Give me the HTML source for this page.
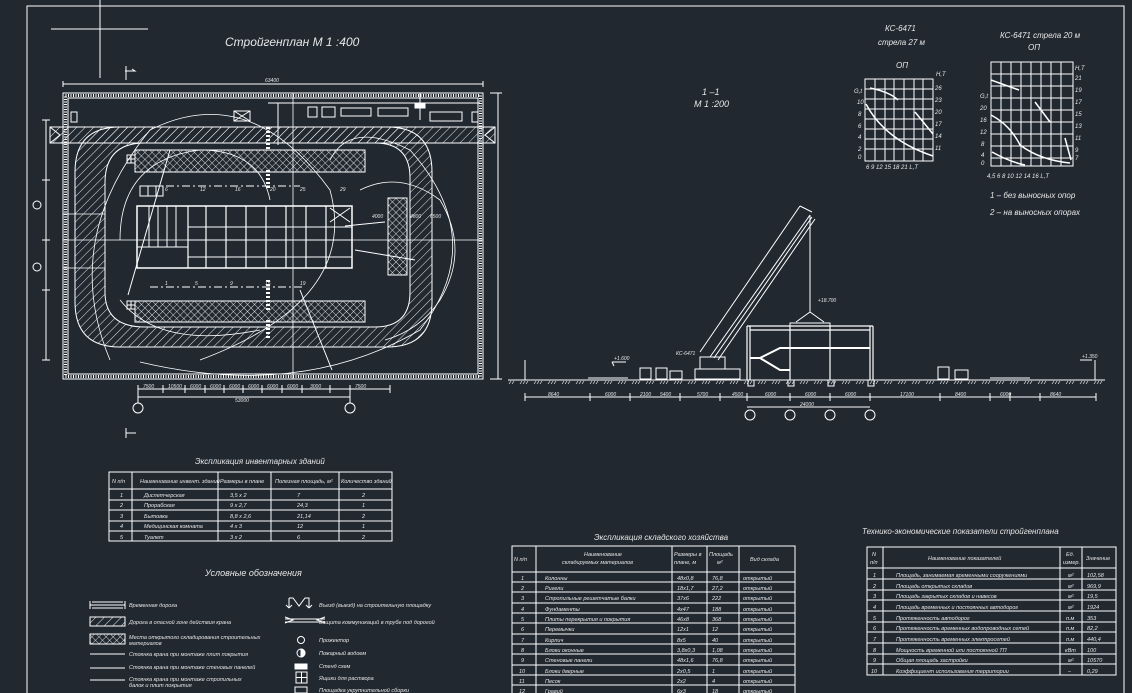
<!DOCTYPE html>
<html><head><meta charset="utf-8">
<style>
html,body{margin:0;padding:0;background:#212830;}
svg{display:block}
text{font-family:"Liberation Sans","DejaVu Sans",sans-serif;font-style:italic;fill:#e6e6e6;}
</style></head><body>
<svg width="1132" height="693" viewBox="0 0 1132 693" xmlns="http://www.w3.org/2000/svg">
<defs>
<pattern id="hat" width="6" height="6" patternUnits="userSpaceOnUse" patternTransform="rotate(45)">
<line x1="0" y1="0" x2="0" y2="6" stroke="#fff" stroke-width="0.9"/></pattern>
<pattern id="cross" width="5" height="5" patternUnits="userSpaceOnUse" patternTransform="rotate(45)">
<line x1="0" y1="0" x2="0" y2="5" stroke="#fff" stroke-width="0.8"/><line x1="0" y1="0" x2="5" y2="0" stroke="#fff" stroke-width="0.8"/></pattern>
<pattern id="grnd" width="14" height="4" patternUnits="userSpaceOnUse">
<path d="M2 4l2-3M5 4l2-3M8 4l2-3" stroke="#fff" stroke-width="0.6"/></pattern>
</defs>
<g stroke="#fff" fill="none" stroke-width="1">
<!-- frame -->
<path d="M27 693V6H1124V693"/>
<path d="M100 0V78M51 29H148"/>
</g>
<text x="225" y="46" font-size="12">Стройгенплан М 1 :400</text>

<!-- ===== PLAN ===== -->
<g stroke="#fff" fill="none" stroke-width="1">
<path d="M126 66v14M125 71h10l-3-2M125 71h8"/>
<path d="M63 84H483M63 81v6M483 81v6"/>
<rect x="63" y="93" width="420" height="286"/>
<rect x="68" y="98" width="410" height="276"/>
<rect x="65.5" y="95.5" width="415" height="281" stroke-dasharray="1 1.5" stroke-width="3"/>
<path d="M498 93V379M490 93h12M490 379h12"/>
<!-- road straight top -->
<rect x="50" y="127" width="445" height="16" fill="url(#hat)"/>
<path d="M50 127l10 8-10 8M495 127l-10 8 10 8"/>
<!-- loop -->
<path fill="url(#hat)" fill-rule="evenodd" d="M120 127H387Q432 127 432 172V302Q432 347 387 347H120Q75 347 75 302V172Q75 127 120 127ZM145 143H375Q410 143 410 178V292Q410 327 375 327H145Q105 327 105 292V183Q105 143 145 143Z"/>
<!-- storage -->
<rect x="135" y="150" width="230" height="22" fill="url(#cross)"/>
<rect x="135" y="301" width="230" height="21" fill="url(#cross)"/>
<rect x="388" y="198" width="19" height="77" fill="url(#cross)"/>
<!-- building -->
<rect x="137" y="206" width="215" height="62" stroke-width="1.5"/>
<path d="M188 206V268M206 206V268M226 206V268M246 206V268M266 206V268M286 206V268M306 206V268M326 206V268" stroke-width="1.2"/>
<path d="M188 227H352M188 240H352M188 257H352"/>
<path d="M137 247H188M149 206V247M158 206V247M167 206V247M176 206V247"/>
<path d="M330 208l20 14M350 208l-20 14"/>
<!-- crane paths -->
<path d="M150 186H300M150 287H305" stroke-dasharray="8 3 2 3"/>
<!-- center axis -->
<path d="M293 93V379M63 240H483M63 214H105M63 268H105" stroke-width="0.8"/>
<!-- zone arcs -->
<path d="M110 360Q60 240 150 130Q250 80 330 190Q360 300 200 360" stroke-width="0.8"/>
<path d="M140 362Q300 400 420 330Q490 240 410 150Q350 120 330 160" stroke-width="0.8"/>
<path d="M120 240Q120 160 200 150Q260 150 270 200M120 300Q160 350 260 330" stroke-width="0.8"/>
<path d="M360 190Q400 170 440 200Q470 250 440 300Q420 330 385 340" stroke-width="0.8"/>
<!-- top small buildings -->
<rect x="234" y="111" width="16" height="10"/><path d="M234 111l16 10M250 111l-16 10"/>
<rect x="308" y="107" width="9" height="10"/><rect x="322" y="107" width="13" height="10"/>
<rect x="341" y="108" width="30" height="8"/><rect x="378" y="108" width="30" height="8"/>
<rect x="430" y="112" width="32" height="9"/><rect x="472" y="112" width="6" height="10"/>
<rect x="71" y="112" width="6" height="10"/>
<path d="M278 103V145M268 103H480M420 93V120"/>
<rect x="415" y="103" width="10" height="5" fill="#fff"/>
<!-- ticks -->
<path d="M268 127V150M268 170v20M268 280v30M268 320v20" stroke-width="4" stroke-dasharray="2 2"/>
<rect x="127" y="155" width="8" height="8"/><path d="M131 155v8M127 159h8"/>
<rect x="127" y="301" width="8" height="8"/><path d="M131 301v8M127 305h8"/>
<rect x="140" y="186" width="23" height="10"/><path d="M148 186v10M156 186v10"/>
<!-- diagonals -->
<path d="M170 150l-42 145M300 290l32 80M355 250l60 10M345 226l40-4"/>
<!-- bottom dims -->
<path d="M138 389H390M138 385v8M163 385v8M185 385v8M205 385v8M224 385v8M243 385v8M262 385v8M282 385v8M302 385v8M330 385v8M350 385v8M390 385v8"/>
<path d="M138 397H350M138 393v10M350 393v10"/>
<circle cx="138" cy="408" r="5"/><circle cx="350" cy="408" r="5"/>
<path d="M126 428v10M126 433h10"/>
<!-- left dims -->
<path d="M46 120V360M42 120h8M42 180h8M42 240h8M42 290h8M42 360h8"/>
<circle cx="37" cy="205" r="4"/><circle cx="37" cy="267" r="4"/>
</g>
<g font-size="5">
<text x="265" y="82">63400</text><text x="143" y="388">7500</text><text x="168" y="388">10500</text><text x="190" y="388">6000</text><text x="210" y="388">6000</text><text x="229" y="388">6000</text><text x="248" y="388">6000</text><text x="267" y="388">6000</text><text x="287" y="388">6000</text><text x="310" y="388">3000</text><text x="355" y="388">7500</text><text x="235" y="402">53000</text>
<text x="430" y="218">6500</text><text x="410" y="218">4800</text><text x="372" y="218">4000</text>
<text x="165" y="191">6</text><text x="200" y="191">12</text><text x="235" y="191">16</text><text x="270" y="191">20</text><text x="300" y="191">25</text><text x="340" y="191">29</text>
<text x="165" y="285">1</text><text x="195" y="285">5</text><text x="230" y="285">9</text><text x="265" y="285">15</text><text x="300" y="285">19</text>
</g>

<!-- ===== SECTION 1-1 ===== -->
<text x="702" y="95" font-size="9">1 –1</text>
<text x="694" y="107" font-size="9">М 1 :200</text>
<g stroke="#fff" fill="none" stroke-width="1">
<path d="M508 380H1105M525 360v20M1095 360v20"/>
<rect x="508" y="380" width="597" height="4" fill="url(#grnd)" stroke="none"/>
<path d="M525 397H1096M525 393v8M590 393v8M630 393v8M680 393v8M720 393v8M747 393v8M790 393v8M830 393v8M870 393v8M940 393v8M990 393v8M1010 393v8M1040 393v8M1096 393v8"/>
<path d="M747 407H870"/>
<circle cx="750" cy="415" r="5"/><circle cx="790" cy="415" r="5"/><circle cx="830" cy="415" r="5"/><circle cx="870" cy="415" r="5"/>
<!-- building -->
<path d="M747 326H873M750 330H870M750 326V380M790 326V380M830 326V380M870 326V380M747 326V380M873 326V380" stroke-width="1.2"/>
<path d="M790 348H870M750 358l10 0 20-10h10M750 358l10 0 20 12h10" stroke-width="2"/>
<rect x="790" y="323" width="40" height="3"/>
<path d="M748 380v6h6v-6M788 380v6h6v-6M828 380v6h6v-6M868 380v6h6v-6"/>
<!-- crane -->
<path d="M700 352L800 206M710 357L810 215M714 358L812 217M718 360L815 219M800 206l12 6"/>
<path d="M810 215V312M810 312l-14 10M810 312l14 10"/>
<rect x="700" y="357" width="25" height="12"/><rect x="695" y="369" width="45" height="10"/>
<rect x="640" y="368" width="11" height="11"/><rect x="656" y="368" width="11" height="11"/><rect x="670" y="371" width="12" height="8"/>
<rect x="1088" y="368" width="0" height="0"/>
<rect x="938" y="367" width="11" height="12"/><rect x="955" y="370" width="13" height="9"/>
<path d="M588 378h40M990 378h40M612 362h14M612 362l2 4M1080 360h12"/>
</g>
<g font-size="5">
<text x="548" y="396">8640</text><text x="605" y="396">6000</text><text x="640" y="396">2100</text><text x="660" y="396">5400</text><text x="697" y="396">5700</text><text x="732" y="396">4500</text><text x="765" y="396">6000</text><text x="805" y="396">6000</text><text x="845" y="396">6000</text><text x="900" y="396">17100</text><text x="955" y="396">8400</text><text x="1000" y="396">6000</text><text x="1050" y="396">8640</text><text x="800" y="406">24000</text>
<text x="818" y="302">+18.700</text><text x="676" y="355">КС-6471</text><text x="614" y="360">+1.600</text><text x="1082" y="358">+1.350</text>
</g>

<!-- charts -->
<text x="885" y="31" font-size="8">КС-6471</text>
<text x="878" y="45" font-size="8">стрела 27 м</text>
<text x="896" y="68" font-size="8">ОП</text>
<text x="1000" y="38" font-size="8">КС-6471 стрела 20 м</text>
<text x="1028" y="50" font-size="8">ОП</text>
<g stroke="#fff" fill="none" stroke-width="1">
<rect x="865" y="79" width="68" height="82"/>
<path d="M875 79v82M885 79v82M894 79v82M904 79v82M914 79v82M923 79v82M865 89h68M865 99h68M865 109h68M865 119h68M865 129h68M865 139h68M865 149h68"/>
<path d="M866 104Q885 140 933 156M870 88Q890 92 898 100M915 112l18 22" stroke-width="1.5"/>
<rect x="991" y="62" width="82" height="104"/>
<path d="M1001 62v104M1011 62v104M1021 62v104M1031 62v104M1041 62v104M1051 62v104M1061 62v104M991 74h82M991 86h82M991 98h82M991 110h82M991 122h82M991 134h82M991 146h82M991 158h82"/>
<path d="M991 80l28 10M991 115Q1010 125 1020 145Q1040 160 1070 163M992 152Q1010 162 1025 165M1035 102l15 20M1065 138l6 22" stroke-width="1.5"/>
</g>
<g font-size="6">
<text x="854" y="93">G,t</text><text x="857" y="104">10</text><text x="858" y="116">8</text><text x="858" y="128">6</text><text x="858" y="139">4</text><text x="858" y="151">2</text><text x="858" y="159">0</text>
<text x="935" y="90">26</text><text x="935" y="102">23</text><text x="935" y="114">20</text><text x="935" y="126">17</text><text x="935" y="138">14</text><text x="935" y="150">11</text><text x="936" y="76">H,T</text>
<text x="866" y="169">6  9  12 15 18 21 L,T</text>
<text x="980" y="98">G,t</text><text x="980" y="110">20</text><text x="980" y="122">16</text><text x="980" y="134">12</text><text x="981" y="146">8</text><text x="981" y="157">4</text><text x="981" y="165">0</text>
<text x="1075" y="70">H,T</text><text x="1075" y="80">21</text><text x="1075" y="92">19</text><text x="1075" y="104">17</text><text x="1075" y="116">15</text><text x="1075" y="128">13</text><text x="1075" y="140">11</text><text x="1075" y="152">9</text><text x="1075" y="160">7</text>
<text x="987" y="178">4,5 6  8  10 12 14 16 L,T</text>
</g>
<text x="990" y="198" font-size="8">1 – без выносных опор</text>
<text x="990" y="215" font-size="8">2 – на выносных опорах</text>

<!-- ===== INVENTORY TABLE ===== -->
<text x="195" y="464" font-size="8">Экспликация инвентарных зданий</text>
<g stroke="#fff" fill="none" stroke-width="1">
<rect x="109" y="472" width="283" height="69"/>
<path d="M132 472v69M218 472v69M271 472v69M339 472v69M109 489h283M109 500h283M109 510h283M109 521h283M109 531h283"/>
</g>
<g font-size="5.5">
<text x="112" y="483">N п/п</text><text x="140" y="483">Наименование инвент. зданий</text><text x="220" y="483">Размеры в плане</text><text x="275" y="483">Полезная площадь, м²</text><text x="341" y="483">Количество зданий</text>
<text x="120" y="497">1</text><text x="144" y="497">Диспетчерская</text><text x="230" y="497">3,5 х 2</text><text x="297" y="497">7</text><text x="362" y="497">2</text>
<text x="120" y="507">2</text><text x="144" y="507">Прорабская</text><text x="230" y="507">9 х 2,7</text><text x="297" y="507">24,3</text><text x="362" y="507">1</text>
<text x="120" y="518">3</text><text x="144" y="518">Бытовка</text><text x="230" y="518">8,8 х 2,6</text><text x="297" y="518">21,14</text><text x="362" y="518">2</text>
<text x="120" y="528">4</text><text x="144" y="528">Медицинская комната</text><text x="230" y="528">4 х 3</text><text x="297" y="528">12</text><text x="362" y="528">1</text>
<text x="120" y="539">5</text><text x="144" y="539">Туалет</text><text x="230" y="539">3 х 2</text><text x="297" y="539">6</text><text x="362" y="539">2</text>
</g>

<!-- ===== LEGEND ===== -->
<text x="205" y="576" font-size="9">Условные обозначения</text>
<g stroke="#fff" fill="none" stroke-width="1">
<path d="M90 601v8M125 601v8M90 605h35M92 602h31M92 608h31"/>
<rect x="90" y="617" width="35" height="9" fill="url(#hat)"/>
<rect x="90" y="634" width="35" height="10" fill="url(#cross)"/>
<path d="M90 654h35M90 668h35M90 680h35"/>
<path d="M289 598v10M289 608l-3-3M289 608l3-3M289 598h4l6 8 6-8h4v10M309 608l-3-3M309 608l3-3"/>
<path d="M285 619h40M285 622h40M285 617l8 3-8 3M325 617l-8 3 8 3"/>
<circle cx="301" cy="640" r="3.5"/><circle cx="301" cy="653" r="4"/>
<path d="M301 649v8 a4 4 0 0 0 0-8z" fill="#fff"/>
<rect x="295" y="664" width="12" height="5" fill="#fff"/>
<rect x="296" y="672" width="11" height="11"/><path d="M301.5 672v11M296 677.5h11"/>
<rect x="295" y="687" width="12" height="6"/>
</g>
<g font-size="5.5">
<text x="129" y="607">Временная дорога</text>
<text x="129" y="624">Дорога в опасной зоне действия крана</text>
<text x="129" y="639">Места открытого складирования строительных</text><text x="129" y="645">материалов</text>
<text x="129" y="656">Стоянка крана при монтаже плит покрытия</text>
<text x="129" y="669">Стоянка крана при монтаже стеновых панелей</text>
<text x="129" y="681">Стоянка крана при монтаже стропильных</text><text x="129" y="687">балок и плит покрытия</text>
<text x="319" y="607">Въезд (выезд) на строительную площадку</text>
<text x="319" y="624">Защита коммуникаций в трубе под дорогой</text>
<text x="319" y="642">Прожектор</text>
<text x="319" y="655">Пожарный водоем</text>
<text x="319" y="668">Стенд схем</text>
<text x="319" y="680">Ящики для раствора</text>
<text x="319" y="692">Площадка укрупнительной сборки</text>
</g>

<!-- ===== WAREHOUSE TABLE ===== -->
<text x="594" y="540" font-size="8">Экспликация складского хозяйства</text>
<g stroke="#fff" fill="none" stroke-width="1">
<path d="M512 693V546H795V693M536 546v147M672 546v147M707 546v147M739 546v147"/>
<path d="M512 572h283M512 582h283M512 592h283M512 603h283M512 613h283M512 623h283M512 634h283M512 644h283M512 654h283M512 665h283M512 675h283M512 685h283"/>
</g>
<g font-size="5.5">
<text x="514" y="561">N п/п</text><text x="584" y="556">Наименование</text><text x="562" y="564">складируемых материалов</text>
<text x="674" y="556">Размеры в</text><text x="674" y="564">плане, м</text><text x="709" y="556">Площадь</text><text x="717" y="564">м²</text><text x="750" y="561">Вид склада</text>
<text x="521" y="580">1</text><text x="545" y="580">Колонны</text><text x="677" y="580">48х0,8</text><text x="712" y="580">76,8</text><text x="743" y="580">открытый</text>
<text x="521" y="590">2</text><text x="545" y="590">Ригели</text><text x="677" y="590">18х1,7</text><text x="712" y="590">27,2</text><text x="743" y="590">открытый</text>
<text x="521" y="600">3</text><text x="545" y="600">Стропильные решетчатые балки</text><text x="677" y="600">37х6</text><text x="712" y="600">222</text><text x="743" y="600">открытый</text>
<text x="521" y="611">4</text><text x="545" y="611">Фундаменты</text><text x="677" y="611">4х47</text><text x="712" y="611">188</text><text x="743" y="611">открытый</text>
<text x="521" y="621">5</text><text x="545" y="621">Плиты перекрытия и покрытия</text><text x="677" y="621">46х8</text><text x="712" y="621">368</text><text x="743" y="621">открытый</text>
<text x="521" y="631">6</text><text x="545" y="631">Перемычки</text><text x="677" y="631">12х1</text><text x="712" y="631">12</text><text x="743" y="631">открытый</text>
<text x="521" y="642">7</text><text x="545" y="642">Кирпич</text><text x="677" y="642">8х5</text><text x="712" y="642">40</text><text x="743" y="642">открытый</text>
<text x="521" y="652">8</text><text x="545" y="652">Блоки оконные</text><text x="677" y="652">3,8х0,3</text><text x="712" y="652">1,08</text><text x="743" y="652">открытый</text>
<text x="521" y="662">9</text><text x="545" y="662">Стеновые панели</text><text x="677" y="662">48х1,6</text><text x="712" y="662">76,8</text><text x="743" y="662">открытый</text>
<text x="519" y="673">10</text><text x="545" y="673">Блоки дверные</text><text x="677" y="673">2х0,5</text><text x="712" y="673">1</text><text x="743" y="673">открытый</text>
<text x="519" y="683">11</text><text x="545" y="683">Песок</text><text x="677" y="683">2х2</text><text x="712" y="683">4</text><text x="743" y="683">открытый</text>
<text x="519" y="693">12</text><text x="545" y="693">Гравий</text><text x="677" y="693">6х3</text><text x="712" y="693">18</text><text x="743" y="693">открытый</text>
</g>

<!-- ===== TEP TABLE ===== -->
<text x="862" y="534" font-size="8">Технико-экономические показатели стройгенплана</text>
<g stroke="#fff" fill="none" stroke-width="1">
<rect x="867" y="547" width="249" height="128"/>
<path d="M883 547v128M1060 547v128M1082 547v128"/>
<path d="M867 568h249M867 579h249M867 590h249M867 600h249M867 611h249M867 622h249M867 632h249M867 643h249M867 654h249M867 664h249"/>
</g>
<g font-size="5.5">
<text x="872" y="556">N</text><text x="870" y="564">п/п</text><text x="928" y="560">Наименование показателей</text><text x="1066" y="556">Ед.</text><text x="1063" y="564">измер.</text><text x="1086" y="560">Значение</text>
<text x="873" y="577">1</text><text x="896" y="577">Площадь, занимаемая временными сооружениями</text><text x="1068" y="577">м²</text><text x="1087" y="577">102,58</text>
<text x="873" y="588">2</text><text x="896" y="588">Площадь открытых складов</text><text x="1068" y="588">м²</text><text x="1087" y="588">969,9</text>
<text x="873" y="598">3</text><text x="896" y="598">Площадь закрытых складов и навесов</text><text x="1068" y="598">м²</text><text x="1087" y="598">19,5</text>
<text x="873" y="609">4</text><text x="896" y="609">Площадь временных и постоянных автодорог</text><text x="1068" y="609">м²</text><text x="1087" y="609">1924</text>
<text x="873" y="620">5</text><text x="896" y="620">Протяженность автодорог</text><text x="1066" y="620">п.м</text><text x="1087" y="620">353</text>
<text x="873" y="630">6</text><text x="896" y="630">Протяженность временных водопроводных сетей</text><text x="1066" y="630">п.м</text><text x="1087" y="630">82,2</text>
<text x="873" y="641">7</text><text x="896" y="641">Протяженность временных электросетей</text><text x="1066" y="641">п.м</text><text x="1087" y="641">440,4</text>
<text x="873" y="652">8</text><text x="896" y="652">Мощность временной или постоянной ТП</text><text x="1065" y="652">кВт</text><text x="1087" y="652">100</text>
<text x="873" y="662">9</text><text x="896" y="662">Общая площадь застройки</text><text x="1068" y="662">м²</text><text x="1087" y="662">10570</text>
<text x="871" y="673">10</text><text x="896" y="673">Коэффициент использования территории</text><text x="1068" y="673">–</text><text x="1087" y="673">0,29</text>
</g>
</svg>
</body></html>
